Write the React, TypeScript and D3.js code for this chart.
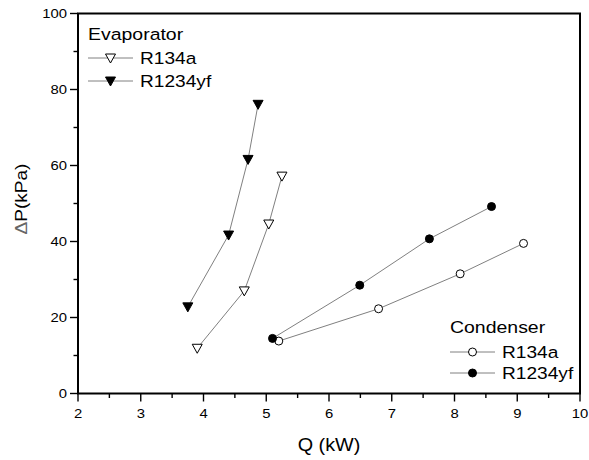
import React from "react";
import * as d3 from "d3";

const evapR134aQ = [3.9, 4.65, 5.04, 5.25];
const evapR134aP = [11.9, 27.0, 44.6, 57.2];
const evapR1234yfQ = [3.75, 4.4, 4.71, 4.87];
const evapR1234yfP = [22.8, 41.7, 61.6, 76.1];
const condR134aQ = [5.2, 6.79, 8.09, 9.1];
const condR134aP = [13.8, 22.3, 31.5, 39.5];
const condR1234yfQ = [5.1, 6.49, 7.6, 8.59];
const condR1234yfP = [14.5, 28.5, 40.7, 49.2];

const xTicks = [2, 3, 4, 5, 6, 7, 8, 9, 10];
const xMinor = [2.5, 3.5, 4.5, 5.5, 6.5, 7.5, 8.5, 9.5];
const yTicks = [0, 20, 40, 60, 80, 100];
const yMinor = [10, 30, 50, 70, 90];

const W = 589, H = 460;
const L = 78, R = 580, T = 13.5, B = 393.5;
const FONT = "'Liberation Sans', Arial, sans-serif";
const LINE = "#808080";

type Shape = "triOpen" | "triFill" | "circOpen" | "circFill";

function SText({
  x, y, size, stretch = 1.15, anchor = "start", rotate = 0, children,
}: {
  x: number; y: number; size: number; stretch?: number; anchor?: string; rotate?: number; children: React.ReactNode;
}) {
  return (
    <text
      transform={`translate(${x},${y}) rotate(${rotate}) scale(${stretch},1)`}
      fontSize={size}
      fontFamily={FONT}
      textAnchor={anchor}
      fill="#000"
    >
      {children}
    </text>
  );
}

function Marker({ x, y, shape }: { x: number; y: number; shape: Shape }) {
  if (shape === "triOpen" || shape === "triFill") {
    const s = 5;
    const pts = `${x - s},${y - 4} ${x + s},${y - 4} ${x},${y + 5}`;
    return (
      <polygon
        points={pts}
        fill={shape === "triFill" ? "#000" : "#fff"}
        stroke="#000"
        strokeWidth={1}
      />
    );
  }
  return (
    <circle
      cx={x}
      cy={y}
      r={4}
      fill={shape === "circFill" ? "#000" : "#fff"}
      stroke="#000"
      strokeWidth={1}
    />
  );
}

export default function App() {
  const x = d3.scaleLinear().domain([2, 10]).range([L, R]);
  const y = d3.scaleLinear().domain([0, 100]).range([B, T]);
  const line = d3
    .line<[number, number]>()
    .x((d) => x(d[0]))
    .y((d) => y(d[1]));

  const series: { q: number[]; p: number[]; shape: Shape }[] = [
    { q: evapR134aQ, p: evapR134aP, shape: "triOpen" },
    { q: evapR1234yfQ, p: evapR1234yfP, shape: "triFill" },
    { q: condR134aQ, p: condR134aP, shape: "circOpen" },
    { q: condR1234yfQ, p: condR1234yfP, shape: "circFill" },
  ];

  const legendRow = (lx: number, ly: number, shape: Shape, label: string, key: string) => (
    <g key={key}>
      <line x1={lx} x2={lx + 45} y1={ly} y2={ly} stroke={LINE} strokeWidth={1} />
      <Marker x={lx + 22.5} y={ly} shape={shape} />
      <SText x={lx + 52} y={ly + 5.8} size={16.5} stretch={1.16}>
        {label}
      </SText>
    </g>
  );

  return (
    <svg width={W} height={H} style={{ position: "absolute", left: 0, top: 0, background: "#fff" }}>
      <rect x={0} y={0} width={W} height={H} fill="#fff" />
      {series.map((s, i) => {
        const pts = s.q.map((q, j) => [q, s.p[j]] as [number, number]);
        return (
          <g key={i}>
            <path d={line(pts) || ""} fill="none" stroke={LINE} strokeWidth={1} />
            {pts.map((d, j) => (
              <Marker key={j} x={x(d[0])} y={y(d[1])} shape={s.shape} />
            ))}
          </g>
        );
      })}
      {/* frame */}
      <rect x={L} y={T} width={R - L} height={B - T} fill="none" stroke="#000" strokeWidth={2} />
      {/* x ticks */}
      {xTicks.map((t) => (
        <g key={"xt" + t}>
          <line x1={x(t)} x2={x(t)} y1={B} y2={B + 8} stroke="#000" strokeWidth={1.4} />
          <SText x={x(t)} y={B + 24.5} size={13.5} stretch={1.1} anchor="middle">
            {t}
          </SText>
        </g>
      ))}
      {xMinor.map((t) => (
        <line key={"xm" + t} x1={x(t)} x2={x(t)} y1={B} y2={B + 4.5} stroke="#000" strokeWidth={1.4} />
      ))}
      {yTicks.map((t) => (
        <g key={"yt" + t}>
          <line x1={L - 8} x2={L} y1={y(t)} y2={y(t)} stroke="#000" strokeWidth={1.4} />
          <SText x={L - 11} y={y(t) + 4.8} size={13.5} stretch={1.1} anchor="end">
            {t}
          </SText>
        </g>
      ))}
      {yMinor.map((t) => (
        <line key={"ym" + t} x1={L - 4.5} x2={L} y1={y(t)} y2={y(t)} stroke="#000" strokeWidth={1.4} />
      ))}
      {/* axis titles */}
      <SText x={(L + R) / 2 - 0} y={451} size={18} stretch={1.1} anchor="middle">
        Q (kW)
      </SText>
      <text
        transform={`translate(27, 199) rotate(-90) scale(1.12,1)`}
        textAnchor="middle"
        fontSize={17}
        fontFamily={FONT}
        fill="#000"
      >
        <tspan fill="#666" fontWeight={300}>Δ</tspan>P(kPa)
      </text>
      {/* legends */}
      <SText x={88} y={40} size={16.5} stretch={1.18}>
        Evaporator
      </SText>
      {legendRow(88, 58, "triOpen", "R134a", "l1")}
      {legendRow(88, 81, "triFill", "R1234yf", "l2")}
      <SText x={450} y={333} size={16.5} stretch={1.18}>
        Condenser
      </SText>
      {legendRow(450, 352, "circOpen", "R134a", "l3")}
      {legendRow(450, 373, "circFill", "R1234yf", "l4")}
    </svg>
  );
}
